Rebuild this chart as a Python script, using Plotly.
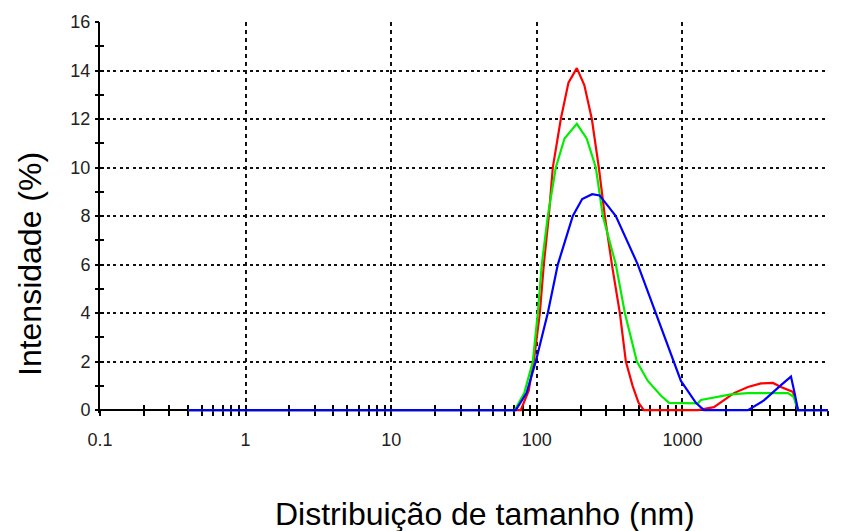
import plotly.graph_objects as go

# ---- data (size in nm, intensity in %) ----
red_nm = [0.405, 77.6, 88, 95.3, 104.9, 111.7, 120.9, 128.8, 146.2, 165, 188.3, 212, 238.8, 266.7,
          293.3, 328, 372, 409, 455, 500, 543.5, 1278, 1646, 2259, 2820, 3465, 4187, 4753, 5747, 6221, 10000]
red_int = [0, 0, 0.8, 2, 4, 6, 8, 10, 12, 13.5, 14.1, 13.4, 12, 10,
           8, 6, 4, 2, 1.0, 0.3, 0, 0, 0.12, 0.7, 0.95, 1.1, 1.12, 0.95, 0.75, 0, 0]

green_nm = [0.405, 70.6, 82, 93.9, 101.6, 108.2, 119, 135.1, 155, 188.3, 220, 254.3, 284.2, 349,
            402.5, 486.7, 579, 711, 810, 1278, 1340, 1646, 2154, 2820, 5311, 5800, 6221, 10000]
green_int = [0, 0, 0.7, 2, 4, 6, 8, 10, 11.2, 11.8, 11.2, 10, 8, 6,
             4, 2, 1.2, 0.6, 0.3, 0.28, 0.42, 0.53, 0.65, 0.7, 0.7, 0.55, 0, 0]

blue_nm = [0.405, 71.7, 85, 98.4, 119, 139.4, 176.7, 205, 240, 270, 300, 348.9, 494, 657,
           874, 977, 1238, 1405, 2820, 3632, 4753, 5568, 5900, 6221, 10000]
blue_int = [0, 0, 0.7, 2, 4, 6, 8, 8.7, 8.9, 8.85, 8.5, 8, 6, 4,
            2, 1.2, 0.3, 0, 0, 0.4, 1.03, 1.38, 0.7, 0, 0]

x_major = [0.1, 1, 10, 100, 1000, 10000]
x_labels = ["0.1", "1", "10", "100", "1000", "10000"]
x_all_ticks = [m * d for d in [0.1, 1, 10, 100, 1000] for m in range(1, 10)] + [10000]
y_major = list(range(0, 17, 2))
y_labels = [str(v) for v in y_major]
y_all_ticks = list(range(0, 17))

Y_MIN, Y_MAX = -0.12, 16
zero_pos = (0 - Y_MIN) / (Y_MAX - Y_MIN)

tick_font = dict(family="Liberation Sans, Arial, sans-serif", size=18, color="#222")
title_font = dict(family="Liberation Sans, Arial, sans-serif", size=32, color="black")

fig = go.Figure()
for xs, ys, col in [(red_nm, red_int, "#ff0000"), (green_nm, green_int, "#00ee00"), (blue_nm, blue_int, "#0000ff")]:
    fig.add_trace(go.Scatter(x=xs, y=ys, mode="lines", line=dict(color=col, width=2.2),
                             showlegend=False, hoverinfo="skip"))

common_x = dict(type="log", range=[-1, 4], fixedrange=True)
common_y = dict(range=[Y_MIN, Y_MAX], fixedrange=True)

PLOT_TOP, PLOT_BOTTOM = 22, 413
PH = PLOT_BOTTOM - PLOT_TOP


def py(pix):
    return (PLOT_BOTTOM - pix) / PH


fig.update_layout(
    width=851, height=531,
    margin=dict(l=100, r=23, t=PLOT_TOP, b=531 - PLOT_BOTTOM),
    paper_bgcolor="white", plot_bgcolor="white",
    xaxis=dict(**common_x, tickvals=x_major, ticktext=x_labels, tickfont=tick_font,
               showgrid=True, gridcolor="#111", gridwidth=2, griddash="4px,4px",
               ticks="outside", ticklen=10, tickcolor="rgba(0,0,0,0)",
               showline=False, zeroline=False, layer="below traces"),
    yaxis=dict(**common_y, tickvals=y_major, ticktext=y_labels, tickfont=tick_font,
               showgrid=True, gridcolor="#111", gridwidth=2, griddash="3px,3.5px",
               ticks="outside", ticklen=4, tickcolor="rgba(0,0,0,0)",
               showline=True, linecolor="black", linewidth=2,
               zeroline=True, zerolinecolor="black", zerolinewidth=2, layer="below traces"),
    xaxis2=dict(**common_x, overlaying="x", anchor="free", position=zero_pos, side="bottom",
                tickvals=x_all_ticks, showticklabels=False, showgrid=False, zeroline=False,
                ticks="outside", ticklen=5, tickwidth=2, tickcolor="black", layer="below traces"),
    xaxis3=dict(**common_x, overlaying="x", anchor="free", position=zero_pos, side="bottom",
                tickvals=x_all_ticks, showticklabels=False, showgrid=False, zeroline=False,
                ticks="inside", ticklen=5, tickwidth=2, tickcolor="black", layer="below traces"),
    yaxis2=dict(**common_y, overlaying="y", anchor="x", side="left", tickvals=y_all_ticks,
                showticklabels=False, showgrid=False, zeroline=False, ticks="outside", ticklen=4,
                tickwidth=2, tickcolor="black", layer="below traces"),
    yaxis3=dict(**common_y, overlaying="y", anchor="x", side="left", tickvals=y_all_ticks,
                showticklabels=False, showgrid=False, zeroline=False, ticks="inside", ticklen=4,
                tickwidth=2, tickcolor="black", layer="below traces"),
    annotations=[
        dict(text="Intensidade (%)", textangle=-90, xref="paper", yref="paper",
             x=(30 - 100) / 728, y=py(264), xanchor="center", yanchor="middle",
             showarrow=False, font=title_font),
        dict(text="Distribuição de tamanho (nm)", xref="paper", yref="paper",
             x=(485 - 100) / 728, y=py(514), xanchor="center", yanchor="middle",
             showarrow=False, font=title_font),
    ],
)

# invisible helper traces so the tick overlay axes are drawn
for xa, ya in [("x2", "y2"), ("x3", "y3")]:
    fig.add_trace(go.Scatter(x=[None], y=[None], xaxis=xa, yaxis=ya, mode="lines",
                             showlegend=False, hoverinfo="skip"))

fig.write_html("out.html")
